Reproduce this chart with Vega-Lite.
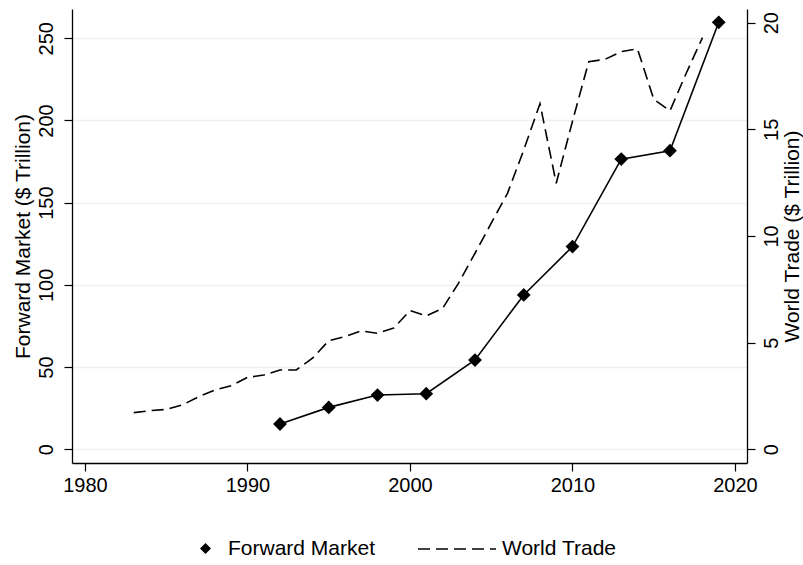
{
  "$schema": "https://vega.github.io/schema/vega-lite/v6.json",
  "autosize": {"type": "none"},
  "padding": {"left": 72, "top": 9, "right": 56, "bottom": 102},
  "width": 675,
  "height": 454,
  "background": "white",
  "config": {
    "view": {"stroke": null},
    "font": "Liberation Sans",
    "axis": {
      "domainColor": "#000000",
      "domainWidth": 1.3,
      "tickColor": "#000000",
      "tickWidth": 1.2,
      "tickSize": 8,
      "labelColor": "#000000",
      "labelFontSize": 20,
      "labelFont": "Liberation Sans",
      "titleFont": "Liberation Sans",
      "titleFontSize": 21,
      "titleFontWeight": "normal",
      "titleColor": "#000000",
      "grid": false,
      "labelFlush": false,
      "labelOverlap": false
    },
    "legend": {
      "labelFont": "Liberation Sans",
      "labelFontSize": 21,
      "labelColor": "#000000",
      "labelLimit": 300,
      "padding": 0
    }
  },
  "datasets": {
    "fm": [
      {"year": 1992, "fm": 15.4, "series": "Forward Market"},
      {"year": 1995, "fm": 25.5, "series": "Forward Market"},
      {"year": 1998, "fm": 33.0, "series": "Forward Market"},
      {"year": 2001, "fm": 33.8, "series": "Forward Market"},
      {"year": 2004, "fm": 54.3, "series": "Forward Market"},
      {"year": 2007, "fm": 93.9, "series": "Forward Market"},
      {"year": 2010, "fm": 123.3, "series": "Forward Market"},
      {"year": 2013, "fm": 176.5, "series": "Forward Market"},
      {"year": 2016, "fm": 181.6, "series": "Forward Market"},
      {"year": 2019, "fm": 259.7, "series": "Forward Market"}
    ],
    "wt": [
      {"year": 1983, "wt": 1.72, "series": "World Trade"},
      {"year": 1984, "wt": 1.81, "series": "World Trade"},
      {"year": 1985, "wt": 1.87, "series": "World Trade"},
      {"year": 1986, "wt": 2.08, "series": "World Trade"},
      {"year": 1987, "wt": 2.47, "series": "World Trade"},
      {"year": 1988, "wt": 2.78, "series": "World Trade"},
      {"year": 1989, "wt": 2.98, "series": "World Trade"},
      {"year": 1990, "wt": 3.37, "series": "World Trade"},
      {"year": 1991, "wt": 3.48, "series": "World Trade"},
      {"year": 1992, "wt": 3.72, "series": "World Trade"},
      {"year": 1993, "wt": 3.72, "series": "World Trade"},
      {"year": 1994, "wt": 4.27, "series": "World Trade"},
      {"year": 1995, "wt": 5.09, "series": "World Trade"},
      {"year": 1996, "wt": 5.28, "series": "World Trade"},
      {"year": 1997, "wt": 5.55, "series": "World Trade"},
      {"year": 1998, "wt": 5.44, "series": "World Trade"},
      {"year": 1999, "wt": 5.68, "series": "World Trade"},
      {"year": 2000, "wt": 6.5, "series": "World Trade"},
      {"year": 2001, "wt": 6.25, "series": "World Trade"},
      {"year": 2002, "wt": 6.6, "series": "World Trade"},
      {"year": 2003, "wt": 7.8, "series": "World Trade"},
      {"year": 2004, "wt": 9.19, "series": "World Trade"},
      {"year": 2005, "wt": 10.6, "series": "World Trade"},
      {"year": 2006, "wt": 12.0, "series": "World Trade"},
      {"year": 2007, "wt": 14.03, "series": "World Trade"},
      {"year": 2008, "wt": 16.2, "series": "World Trade"},
      {"year": 2009, "wt": 12.47, "series": "World Trade"},
      {"year": 2010, "wt": 15.38, "series": "World Trade"},
      {"year": 2011, "wt": 18.17, "series": "World Trade"},
      {"year": 2012, "wt": 18.28, "series": "World Trade"},
      {"year": 2013, "wt": 18.64, "series": "World Trade"},
      {"year": 2014, "wt": 18.77, "series": "World Trade"},
      {"year": 2015, "wt": 16.41, "series": "World Trade"},
      {"year": 2016, "wt": 15.87, "series": "World Trade"},
      {"year": 2017, "wt": 17.63, "series": "World Trade"},
      {"year": 2018, "wt": 19.3, "series": "World Trade"}
    ]
  },
  "layer": [
    {
      "data": {"name": "fm"},
      "encoding": {
        "x": {
          "field": "year",
          "type": "quantitative",
          "scale": {"domain": [1979.2, 2020.74], "nice": false, "zero": false},
          "axis": {"values": [1980, 1990, 2000, 2010, 2020], "format": "d", "title": null, "labelBaseline": "alphabetic", "labelPadding": 20, "labelAlign": "center"}
        },
        "y": {
          "field": "fm",
          "type": "quantitative",
          "scale": {"domain": [-8.33, 267.8], "nice": false, "zero": false},
          "axis": {
            "orient": "left",
            "values": [0, 50, 100, 150, 200, 250],
            "grid": true,
            "gridColor": "#EAF2F3",
            "gridWidth": 1.5,
            "labelAngle": 270,
            "labelAlign": "center",
            "labelBaseline": "alphabetic",
            "labelPadding": 12,
            "title": "Forward Market ($ Trillion)",
            "titleAngle": 270,
            "titleAlign": "center",
            "titleBaseline": "alphabetic",
            "titleX": -43,
            "titleY": 227
          }
        }
      },
      "layer": [
        {"mark": {"type": "line", "color": "#000000", "strokeWidth": 1.6}},
        {
          "mark": {"type": "point", "filled": true, "size": 190, "color": "#000000", "opacity": 1},
          "encoding": {
            "shape": {
              "field": "series",
              "type": "nominal",
              "scale": {"range": ["diamond"]},
              "legend": {
                "orient": "none",
                "legendX": 123,
                "legendY": 529,
                "title": null,
                "symbolType": "diamond",
                "symbolSize": 120,
                "symbolFillColor": "#000000",
                "symbolStrokeColor": "#000000",
                "symbolStrokeWidth": 0,
                "labelOffset": 12
              }
            }
          }
        }
      ]
    },
    {
      "data": {"name": "wt"},
      "mark": {"type": "line", "color": "#000000", "strokeWidth": 1.6},
      "encoding": {
        "x": {
          "field": "year",
          "type": "quantitative",
          "scale": {"domain": [1979.2, 2020.74], "nice": false, "zero": false},
          "axis": {"values": [1980, 1990, 2000, 2010, 2020], "format": "d", "title": null, "labelBaseline": "alphabetic", "labelPadding": 20, "labelAlign": "center"}
        },
        "y": {
          "field": "wt",
          "type": "quantitative",
          "scale": {"domain": [-0.642, 20.64], "nice": false, "zero": false},
          "axis": {
            "orient": "right",
            "values": [0, 5, 10, 15, 20],
            "grid": false,
            "labelAngle": 270,
            "labelAlign": "center",
            "labelBaseline": "alphabetic",
            "labelPadding": 22,
            "title": "World Trade ($ Trillion)",
            "titleAngle": 270,
            "titleAlign": "center",
            "titleBaseline": "alphabetic",
            "titleX": 51,
            "titleY": 227
          }
        },
        "strokeDash": {
          "field": "series",
          "type": "nominal",
          "scale": {"range": [[12, 6]]},
          "legend": {
            "orient": "none",
            "legendX": 345,
            "legendY": 500,
            "title": null,
            "symbolType": "stroke",
            "symbolSize": 6084,
            "symbolStrokeColor": "#000000",
            "symbolStrokeWidth": 1.6,
            "labelOffset": 5
          }
        }
      }
    }
  ],
  "resolve": {"scale": {"y": "independent"}}
}
